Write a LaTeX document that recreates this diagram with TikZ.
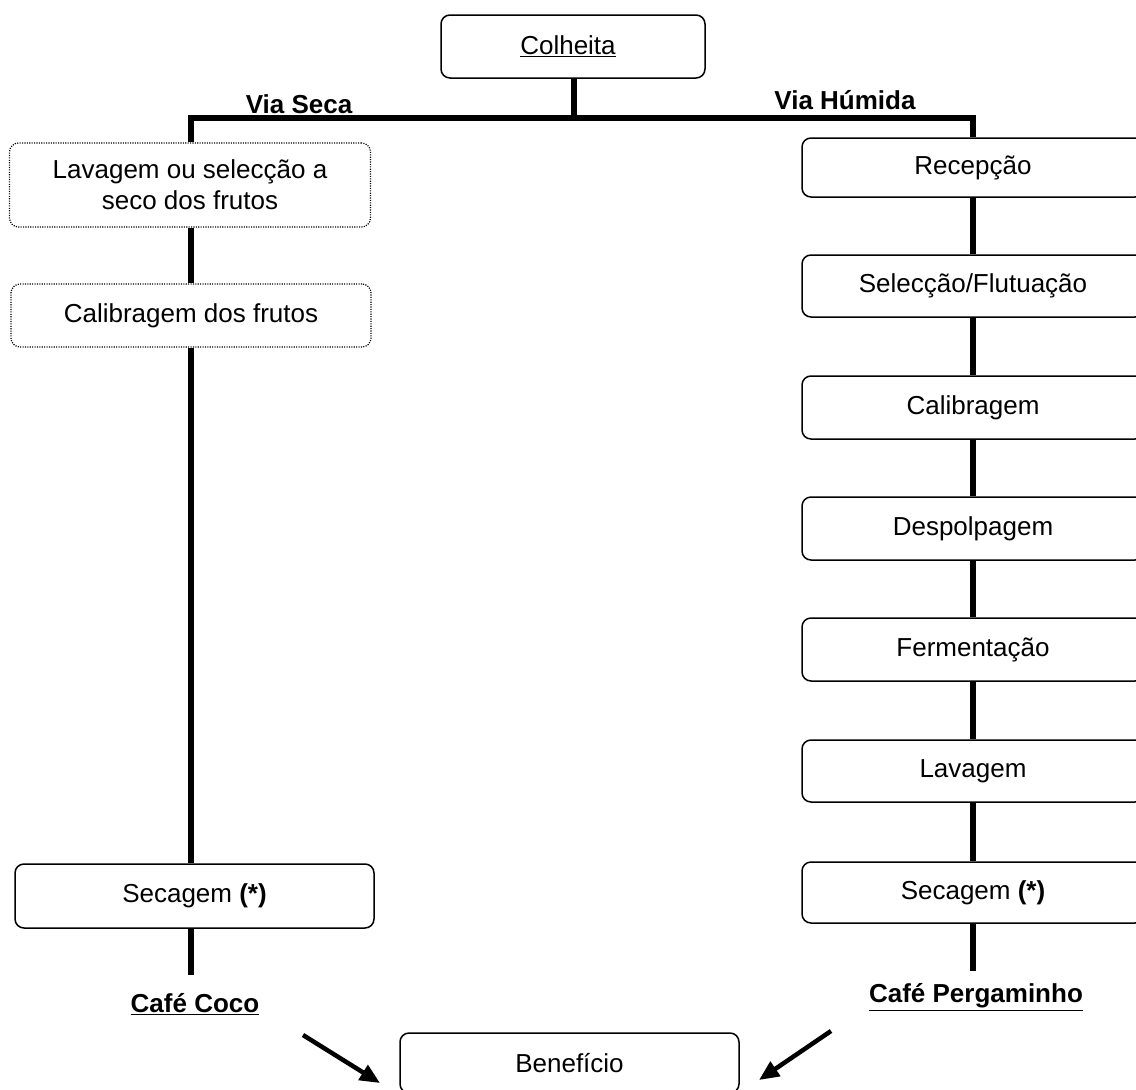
\documentclass[tikz,border=0pt]{standalone}
\usepackage{fontspec}
\setmainfont{Liberation Sans}
\usetikzlibrary{arrows.meta}
\begin{document}
\begin{tikzpicture}[x=1pt,y=-1pt,
  every node/.style={font=\fontsize{26}{31}\selectfont},
  box/.style={draw, line width=1.5pt, rounded corners=9pt, inner sep=0pt, align=center},
  dbox/.style={draw, line width=1.2pt, dash pattern=on 1.1pt off 1.3pt, rounded corners=9pt, inner sep=0pt, align=center},
  trunk/.style={line width=6pt},
  flow/.style={line width=4.5pt, -{Triangle[length=20pt,width=17pt]}},
  lbl/.style={font=\fontsize{26}{31}\selectfont\bfseries, inner sep=0pt}
]
\useasboundingbox (0,0) rectangle (1136,1090);
\fill[white] (0,0) rectangle (1136,1090);

% top
\node[box, minimum width=264pt, minimum height=63pt] (colheita) at (573,46.5) {\underline{Colheita}\hspace*{10pt}};
\coordinate (jm) at (574,118);
\coordinate (jl) at (191,118);
\coordinate (jr) at (973,118);

\node[lbl] (vseca) at (299,104) {Via Seca};
\node[lbl] (vhum) at (845,100) {Via Húmida};

% left branch
\node[dbox, minimum width=361pt, minimum height=84pt] (lav) at (190,185) {Lavagem ou selecção a\\seco dos frutos};
\node[dbox, minimum width=360pt, minimum height=63pt] (calf) at (191,315.5) {Calibragem dos frutos};
\node[box, minimum width=359pt, minimum height=64pt] (secl) at (194.5,896) {Secagem \textbf{(*)}};
\node[lbl] (coco) at (195,1004) {\underline{Café Coco}};
\coordinate (endl) at (191,975);

% right branch
\node[box, minimum width=342pt, minimum height=59pt] (rec) at (973,167.5) {Recepção};
\node[box, minimum width=342pt, minimum height=62pt] (sel) at (973,286) {Selecção/Flutuação};
\node[box, minimum width=342pt, minimum height=63pt] (cal) at (973,407.5) {Calibragem};
\node[box, minimum width=342pt, minimum height=63pt] (desp) at (973,528.5) {Despolpagem};
\node[box, minimum width=342pt, minimum height=63pt] (ferm) at (973,649.5) {Fermentação};
\node[box, minimum width=342pt, minimum height=62pt] (lavr) at (973,771) {Lavagem};
\node[box, minimum width=342pt, minimum height=61pt] (secr) at (973,892.5) {Secagem \textbf{(*)}};
\node[lbl] (perg) at (976,997) {\underline{Café Pergaminho}};
\coordinate (endr) at (973,971);

% bottom
\node[box, minimum width=339pt, minimum height=60pt] (ben) at (569.5,1063) {Benefício};

% trunk lines
\draw[trunk] (colheita.south -| jm) -- (jm);
\draw[trunk] (lav.north -| jl) -- (jl) -- (jr) -- (rec.north -| jr);
\draw[trunk] (lav.south -| jl) -- (calf.north -| jl);
\draw[trunk] (calf.south -| jl) -- (secl.north -| jl);
\draw[trunk] (secl.south -| jl) -- (endl);
\draw[trunk] (rec.south) -- (sel.north);
\draw[trunk] (sel.south) -- (cal.north);
\draw[trunk] (cal.south) -- (desp.north);
\draw[trunk] (desp.south) -- (ferm.north);
\draw[trunk] (ferm.south) -- (lavr.north);
\draw[trunk] (lavr.south) -- (secr.north);
\draw[trunk] (secr.south) -- (endr);

% arrows
\coordinate (al) at (303,1035);
\coordinate (ar) at (831,1031);
\coordinate (tl) at (380,1083);
\coordinate (tr) at (759,1080);
\draw[flow] (al) -- (tl);
\draw[flow] (ar) -- (tr);
\end{tikzpicture}
\end{document}
